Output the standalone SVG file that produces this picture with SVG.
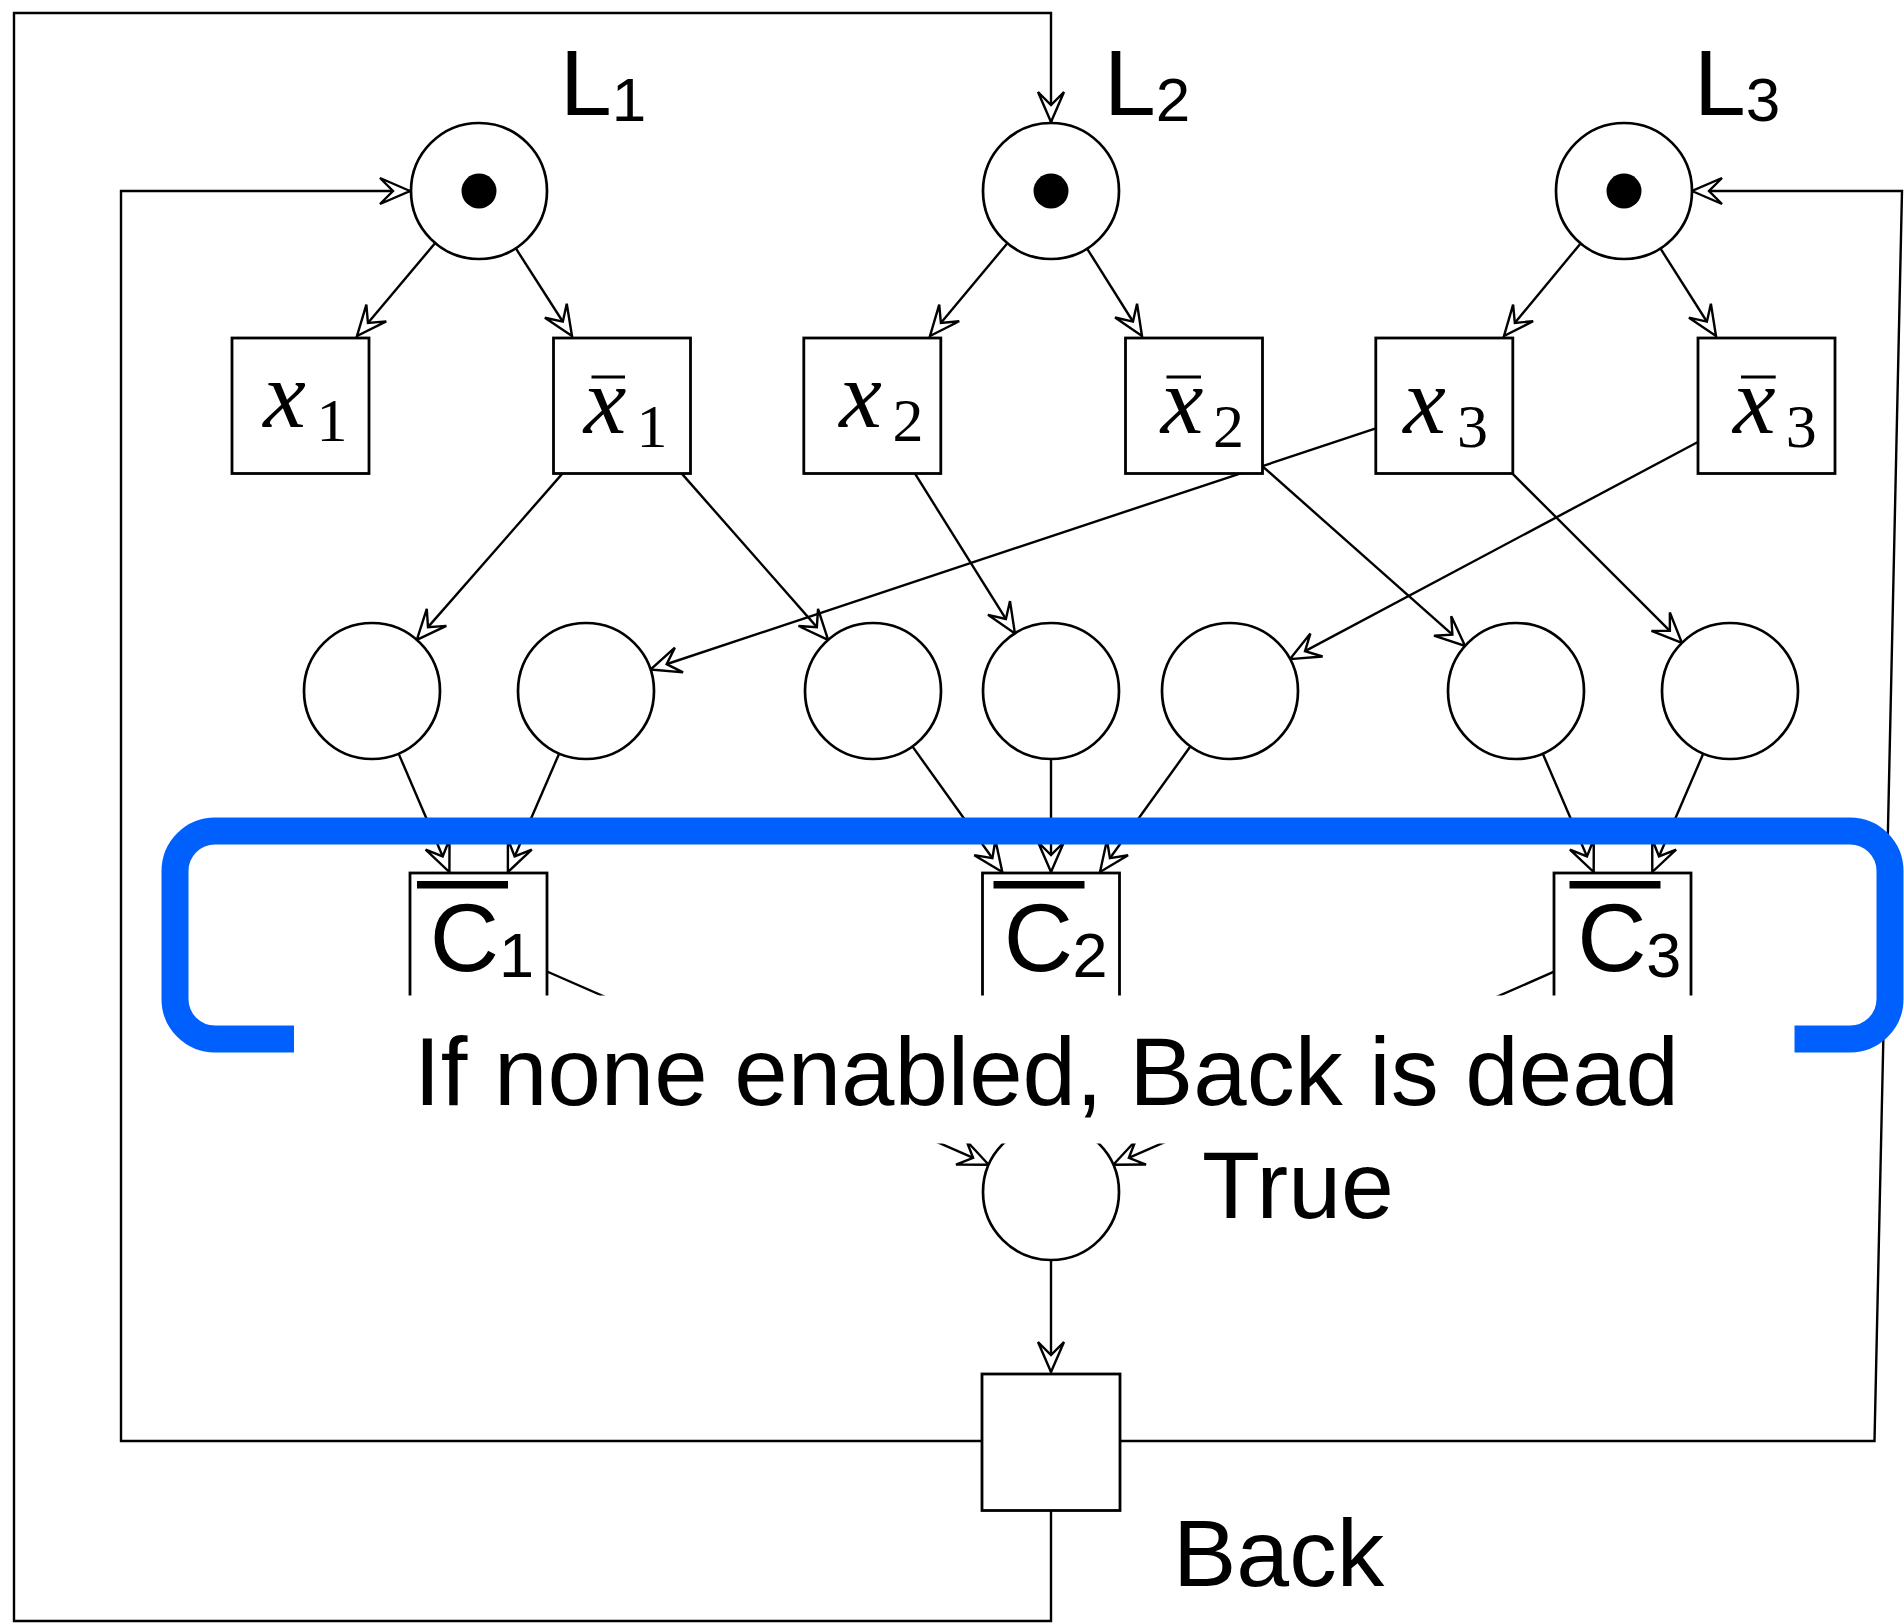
<svg xmlns="http://www.w3.org/2000/svg" width="1904" height="1623" viewBox="0 0 1904 1623">
<defs>
<style>
.pl{fill:#fff;stroke:#000;stroke-width:2.7}
.tr{fill:#fff;stroke:#000;stroke-width:2.8}
.ln{fill:none;stroke:#000;stroke-width:2.4}
.tok{fill:#000}
.sans{font-family:"Liberation Sans",Arial,sans-serif;fill:#000}
.mi{font-family:"Liberation Serif","Times New Roman",serif;font-style:italic;font-size:96px;fill:#000;text-anchor:middle}
.md{font-family:"Liberation Serif","Times New Roman",serif;font-size:62px;fill:#000;text-anchor:middle}
.bar{stroke:#000;stroke-width:3}
.cbar{fill:#000}
</style>
<marker id="arr" viewBox="-34 -15 36 30" refX="0" refY="0" markerWidth="36" markerHeight="30" markerUnits="userSpaceOnUse" orient="auto">
<path d="M0,0 L-30,-13 L-17,0 L-30,13 Z" fill="#fff" stroke="#000" stroke-width="2.4"/>
</marker>
</defs>
<rect width="1904" height="1623" fill="#fff"/>

<g id="connectors">
<line class="ln" x1="435.2" y1="243" x2="357" y2="336" marker-end="url(#arr)"/>
<line class="ln" x1="515.7" y1="248.2" x2="572" y2="336" marker-end="url(#arr)"/>
<line class="ln" x1="1007.4" y1="243.2" x2="930" y2="336" marker-end="url(#arr)"/>
<line class="ln" x1="1087.1" y1="248.6" x2="1142" y2="336" marker-end="url(#arr)"/>
<line class="ln" x1="1580.6" y1="243.4" x2="1504" y2="336" marker-end="url(#arr)"/>
<line class="ln" x1="1660.4" y1="248.4" x2="1716" y2="336" marker-end="url(#arr)"/>

<line class="ln" x1="562.6" y1="473.4" x2="416.8" y2="639.9" marker-end="url(#arr)"/>
<line class="ln" x1="681.6" y1="473.4" x2="828.1" y2="639.9" marker-end="url(#arr)"/>
<line class="ln" x1="914.8" y1="473.4" x2="1014.9" y2="633.4" marker-end="url(#arr)"/>
<line class="ln" x1="1262.5" y1="466.3" x2="1465.1" y2="645.9" marker-end="url(#arr)"/>
<line class="ln" x1="1375.8" y1="428.4" x2="650.5" y2="669.5" marker-end="url(#arr)"/>
<line class="ln" x1="1512.2" y1="473.4" x2="1681.9" y2="642.9" marker-end="url(#arr)"/>
<line class="ln" x1="1697.9" y1="442" x2="1290" y2="659.1" marker-end="url(#arr)"/>

<line class="ln" x1="398.6" y1="753.6" x2="449.4" y2="872" marker-end="url(#arr)"/>
<line class="ln" x1="559.2" y1="753.5" x2="507.9" y2="872" marker-end="url(#arr)"/>
<line class="ln" x1="912.4" y1="746.4" x2="1002.3" y2="872" marker-end="url(#arr)"/>
<line class="ln" x1="1051" y1="759" x2="1051" y2="872" marker-end="url(#arr)"/>
<line class="ln" x1="1190.5" y1="746.3" x2="1100" y2="872" marker-end="url(#arr)"/>
<line class="ln" x1="1542.7" y1="753.5" x2="1593.7" y2="872" marker-end="url(#arr)"/>
<line class="ln" x1="1703.3" y1="753.5" x2="1652.3" y2="872" marker-end="url(#arr)"/>

<line class="ln" x1="547" y1="971.5" x2="988.7" y2="1164.7" marker-end="url(#arr)"/>
<line class="ln" x1="1553.5" y1="971.9" x2="1113.3" y2="1164.7" marker-end="url(#arr)"/>
<line class="ln" x1="1051" y1="1260" x2="1051" y2="1372" marker-end="url(#arr)"/>

<polyline class="ln" points="982,1441 121,1441 121,191 410,191" marker-end="url(#arr)"/>
<polyline class="ln" points="1120,1441 1874.5,1441 1902,191 1692,191" marker-end="url(#arr)"/>
<polyline class="ln" points="1051,1510.5 1051,1621 14,1621 14,13 1051,13 1051,122" marker-end="url(#arr)"/>
</g>

<g id="L1"><circle class="pl" cx="479" cy="191" r="68"/><circle class="tok" cx="479" cy="191" r="17.5"/>
<text class="sans" x="560" y="115" font-size="93">L<tspan font-size="62" dy="6">1</tspan></text></g>
<g id="L2"><circle class="pl" cx="1051" cy="191" r="68"/><circle class="tok" cx="1051" cy="191" r="17.5"/>
<text class="sans" x="1104" y="115" font-size="93">L<tspan font-size="62" dy="6">2</tspan></text></g>
<g id="L3"><circle class="pl" cx="1624" cy="191" r="68"/><circle class="tok" cx="1624" cy="191" r="17.5"/>
<text class="sans" x="1694" y="115" font-size="93">L<tspan font-size="62" dy="6">3</tspan></text></g>

<g id="x1"><rect class="tr" x="232" y="338" width="137" height="135.5"/>
<text class="mi" x="284.5" y="427">x</text><text class="md" x="332" y="441">1</text></g>
<g id="nx1"><rect class="tr" x="553.5" y="338" width="137" height="135.5"/>
<line class="bar" x1="591.5" y1="377" x2="625" y2="377"/>
<text class="mi" x="605" y="432.5">x</text><text class="md" x="652" y="446.5">1</text></g>
<g id="x2"><rect class="tr" x="803.8" y="338" width="137" height="135.5"/>
<text class="mi" x="860.5" y="427">x</text><text class="md" x="908" y="441">2</text></g>
<g id="nx2"><rect class="tr" x="1125.5" y="338" width="137" height="135.5"/>
<line class="bar" x1="1166.5" y1="377" x2="1201" y2="377"/>
<text class="mi" x="1182" y="432.5">x</text><text class="md" x="1228.5" y="446.5">2</text></g>
<g id="x3"><rect class="tr" x="1375.8" y="338" width="137" height="135.5"/>
<text class="mi" x="1424.5" y="432.5">x</text><text class="md" x="1472.5" y="446.5">3</text></g>
<g id="nx3"><rect class="tr" x="1698" y="338" width="137" height="135.5"/>
<line class="bar" x1="1741" y1="377" x2="1775.7" y2="377"/>
<text class="mi" x="1754.3" y="432.5">x</text><text class="md" x="1801.3" y="446.5">3</text></g>

<g id="P1"><circle class="pl" cx="372" cy="691" r="68"/></g>
<g id="P2"><circle class="pl" cx="586" cy="691" r="68"/></g>
<g id="P3"><circle class="pl" cx="873" cy="691" r="68"/></g>
<g id="P4"><circle class="pl" cx="1051" cy="691" r="68"/></g>
<g id="P5"><circle class="pl" cx="1230" cy="691" r="68"/></g>
<g id="P6"><circle class="pl" cx="1516" cy="691" r="68"/></g>
<g id="P7"><circle class="pl" cx="1730" cy="691" r="68"/></g>

<g id="C1"><rect class="tr" x="410" y="873" width="137" height="137"/>
<rect class="cbar" x="417" y="881" width="91" height="7.5"/>
<text class="sans" x="464.5" y="971" font-size="96" text-anchor="middle">C</text>
<text class="sans" x="516.5" y="977" font-size="63" text-anchor="middle">1</text></g>
<g id="C2"><rect class="tr" x="982.5" y="873" width="137" height="137"/>
<rect class="cbar" x="993.5" y="881" width="91" height="7.5"/>
<text class="sans" x="1038.3" y="971" font-size="96" text-anchor="middle">C</text>
<text class="sans" x="1090" y="977" font-size="63" text-anchor="middle">2</text></g>
<g id="C3"><rect class="tr" x="1554" y="873" width="137" height="137"/>
<rect class="cbar" x="1569.5" y="881" width="91" height="7.5"/>
<text class="sans" x="1612" y="971" font-size="96" text-anchor="middle">C</text>
<text class="sans" x="1663.8" y="977" font-size="63" text-anchor="middle">3</text></g>

<g id="True"><circle class="pl" cx="1051" cy="1192" r="68"/>
<text class="sans" x="1202" y="1218" font-size="95">True</text></g>

<g id="Back"><rect class="tr" x="982" y="1374" width="138" height="136.5"/>
<text class="sans" x="1173" y="1586" font-size="95">Back</text></g>

<g id="highlight">
<rect x="175" y="831" width="1715" height="208" rx="40" ry="40" fill="none" stroke="#0060fe" stroke-width="27"/>
<rect x="294" y="995.5" width="1500.5" height="148" fill="#fff"/>
<text class="sans" x="414" y="1105" font-size="96">If none enabled, Back is dead</text>
</g>
</svg>
